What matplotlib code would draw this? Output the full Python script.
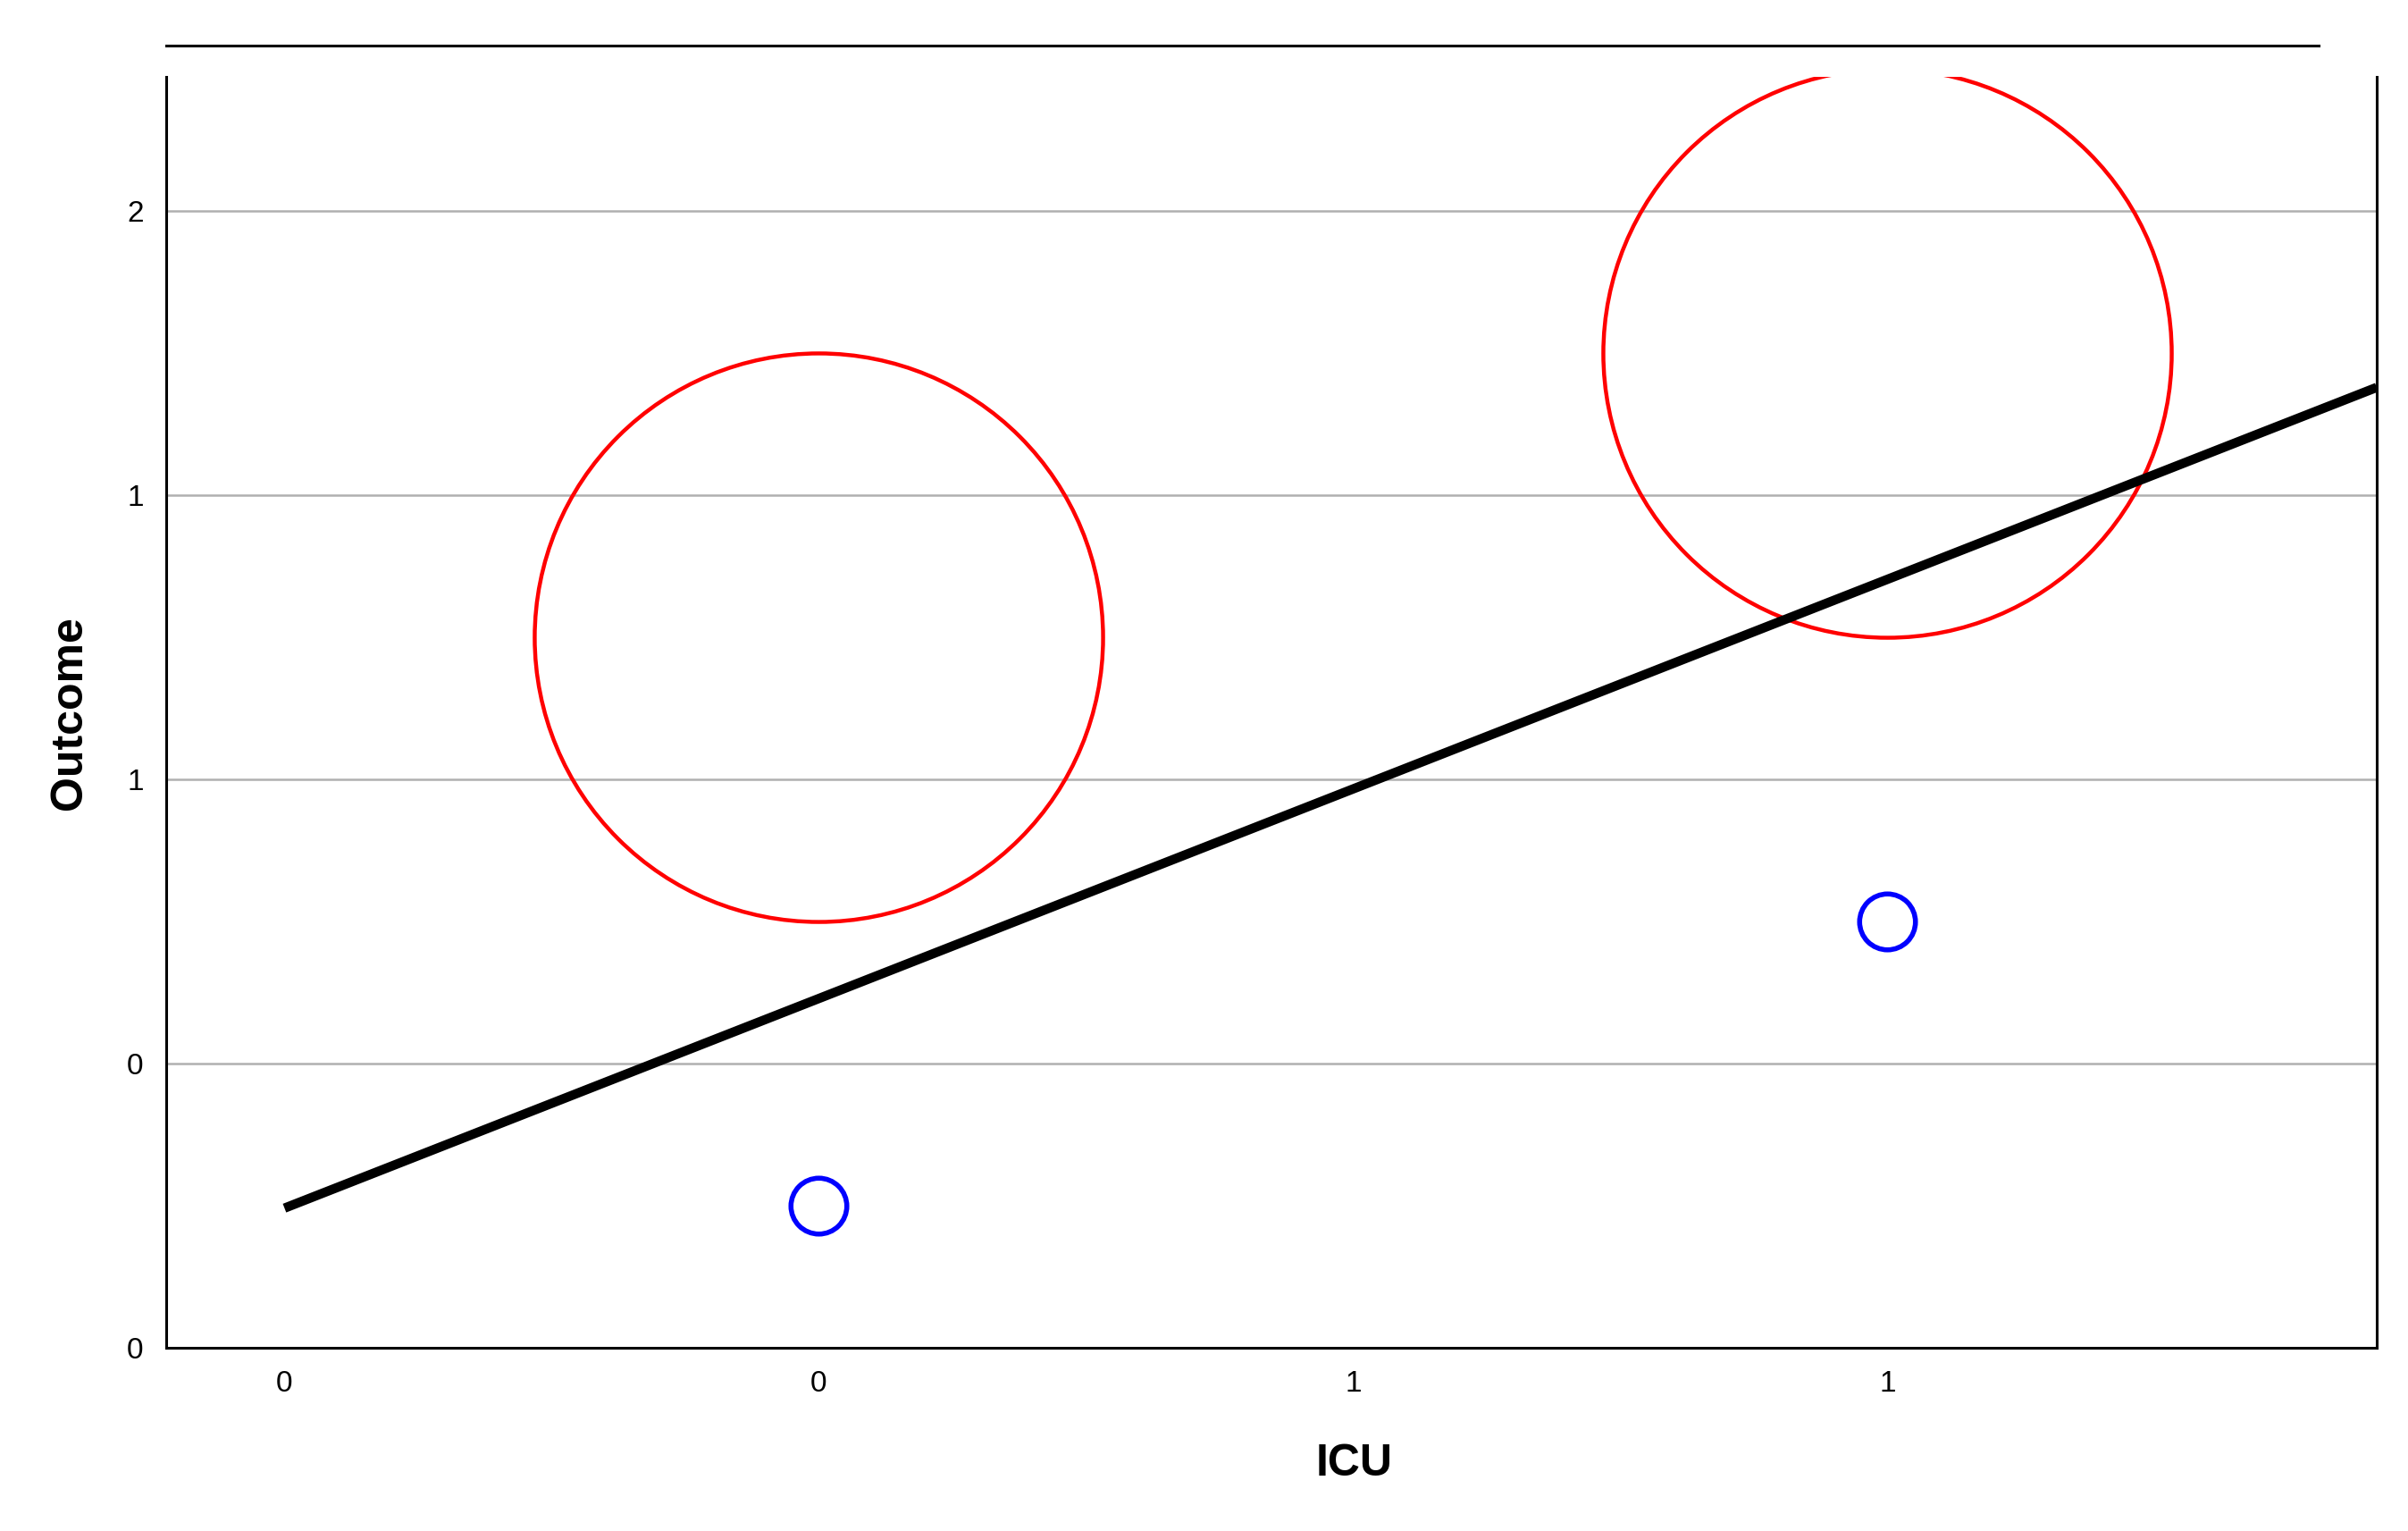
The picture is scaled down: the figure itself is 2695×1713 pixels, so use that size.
import matplotlib
matplotlib.use("Agg")
import matplotlib.pyplot as plt
from matplotlib.lines import Line2D

plt.rcParams['font.family'] = ['Liberation Sans', 'DejaVu Sans']

# data
icu = [0, 1]
outcome_low = [0.25, 0.75]     # blue points
outcome_high = [1.25, 1.75]    # red circles
fit_x = [-0.5, 1.458]
fit_y = [0.246, 1.689]
x_ticks = [-0.5, 0, 0.5, 1]
x_labels = ["0", "0", "1", "1"]
y_ticks = [0, 0.5, 1, 1.5, 2]
y_labels = ["0", "0", "1", "1", "2"]

fig = plt.figure(figsize=(26.95, 17.13), dpi=100)
ax = fig.add_axes([0.0689, 0.1195, 0.9181, 0.8303])

ax.set_xlim(-0.611, 1.458)
ax.set_ylim(0, 2.235)
for y in y_ticks[1:]:
    ax.axhline(y, color="#b0b0b0", lw=1.8, zorder=0)

ax.plot(icu, outcome_high, "o", ms=458, mfc="none", mec="red", mew=3.2)
ax.plot(icu, outcome_low, "o", ms=45, mfc="none", mec="blue", mew=4)
ax.plot(fit_x, fit_y, color="black", lw=7.5, solid_capstyle="butt")

ax.set_xticks(x_ticks)
ax.set_xticklabels(x_labels)
ax.set_yticks(y_ticks)
ax.set_yticklabels(y_labels)
ax.tick_params(length=0, labelsize=24, pad=18)
ax.spines["top"].set_visible(False)
for s in ["left", "right", "bottom"]:
    ax.spines[s].set_linewidth(2.2)
ax.set_xlabel("ICU", fontsize=36, fontweight="bold", labelpad=40)
ax.xaxis.set_label_coords(0.5374, -0.075)
ax.set_ylabel("Outcome", fontsize=36, fontweight="bold", labelpad=30)

fig.add_artist(Line2D([0.0689, 0.963], [0.970, 0.970], color="black", lw=2.2))

fig.savefig("out.png", dpi=100)
